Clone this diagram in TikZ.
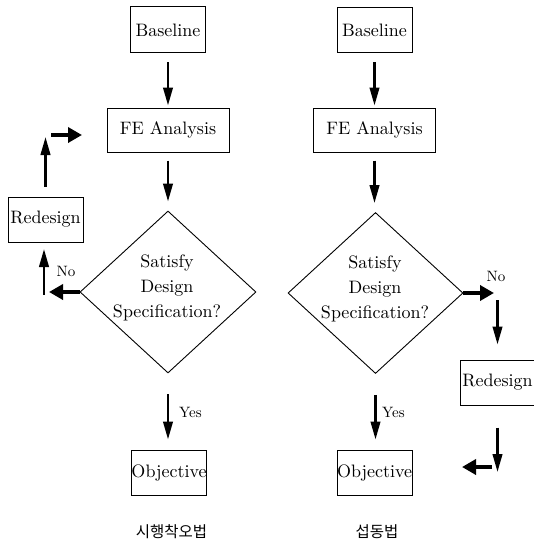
\documentclass[tikz,border=0pt]{standalone}
\usepackage{fontspec}
\setmainfont{lmroman10-regular.otf}
\newfontfamily\krfont{Noto Sans CJK KR}
\usetikzlibrary{arrows.meta,shapes.geometric}
\tikzset{
  box/.style={draw, line width=1pt, inner sep=0pt, minimum width=75pt, minimum height=45pt, font=\fontsize{18}{22}\selectfont},
  dia/.style={draw, diamond, line width=0.9pt, inner sep=0pt, minimum width=176pt, minimum height=162pt},
  diatxt/.style={align=center, inner sep=0pt, font=\fontsize{18}{25}\selectfont},
  lbl/.style={inner sep=0pt, font=\fontsize{15}{18}\selectfont},
  krlbl/.style={inner sep=0pt, font=\krfont\fontsize{15.5}{18}\selectfont},
  mainarr/.style={line width=2.5pt, -{Triangle[length=18pt,width=9.5pt]}},
  fatarr/.style={line width=4.5pt, -{Triangle[length=14pt,width=15pt]}}
}
\begin{document}
\begin{tikzpicture}[x=1pt,y=-1pt]
\useasboundingbox (0,0) rectangle (534,543);
% left column
\node[box, minimum height=46pt] (Lbase) at (168,30) {Baseline};
\node[box, minimum width=122pt, minimum height=44pt] (Lfe) at (168,130) {FE Analysis};
\node[dia] (Ldia) at (168,292) {};
\node[diatxt] (Ltxt) at (167,288) {Satisfy\\Design\\Specification?};
\node[box] (Lobj) at (169,472.5) {Objective};
\node[box] (Lred) at (45.5,219.5) {Redesign};
\node[krlbl] (Lcap) at (171.5,532) {시행착오법};
\draw[mainarr, shorten <=9pt, shorten >=2pt] (Lbase) -- (Lfe);
\draw[mainarr, shorten <=8pt, shorten >=9pt] (Lfe) -- (Ldia);
\draw[mainarr, shorten <=21pt, shorten >=10pt] (Ldia.south) -- (Ldia.south |- Lobj.north);
\node[lbl, anchor=west] (Lyes) at (179,412) {Yes};
\coordinate (LnoTip) at (49,292);
\draw[fatarr] (Ldia.west) -- (LnoTip);
\coordinate (LupBot) at (44,294.5);
\coordinate (LupTop) at (44,249);
\draw[mainarr] (LupBot) -- (LupTop);
\node[lbl] (Lno) at (66,271) {No};
\coordinate (LupB) at (45.5,137);
\draw[mainarr, shorten <=10pt] (Lred.north) -- (LupB);
\coordinate (LrA) at (51,135);
\coordinate (LrB) at (82,135);
\draw[fatarr] (LrA) -- (LrB);
% right column
\node[box] (Rbase) at (374.5,30.5) {Baseline};
\node[box, minimum width=122pt, minimum height=44pt] (Rfe) at (374.5,130) {FE Analysis};
\node[dia, minimum width=175pt, minimum height=161pt] (Rdia) at (375.5,293) {};
\node[diatxt] (Rtxt) at (375,289) {Satisfy\\Design\\Specification?};
\node[box] (Robj) at (374.5,472.5) {Objective};
\node[box] (Rred) at (497.5,382.5) {Redesign};
\node[krlbl] (Rcap) at (377,532) {섭동법};
\draw[mainarr, shorten <=9pt, shorten >=2pt] (Rbase) -- (Rfe);
\draw[mainarr, shorten <=8pt, shorten >=9pt] (Rfe) -- (Rfe |- Rdia.north);
\draw[mainarr, shorten <=21pt, shorten >=10pt] (Rdia.south) -- (Rdia.south |- Robj.north);
\node[lbl, anchor=west] (Ryes) at (382,412) {Yes};
\coordinate (RnoTip) at (494,293);
\draw[fatarr] (Rdia.east) -- (RnoTip);
\node[lbl] (Rno) at (496,276) {No};
\coordinate (RdA) at (497.5,300);
\draw[mainarr, shorten >=15pt] (RdA) -- (RdA |- Rred.north);
\coordinate (RdB) at (497.5,472);
\draw[mainarr, shorten <=22pt] (Rred.south) -- (RdB);
\coordinate (RlA) at (492,467);
\coordinate (RlB) at (462,467);
\draw[fatarr] (RlA) -- (RlB);
\end{tikzpicture}
\end{document}
